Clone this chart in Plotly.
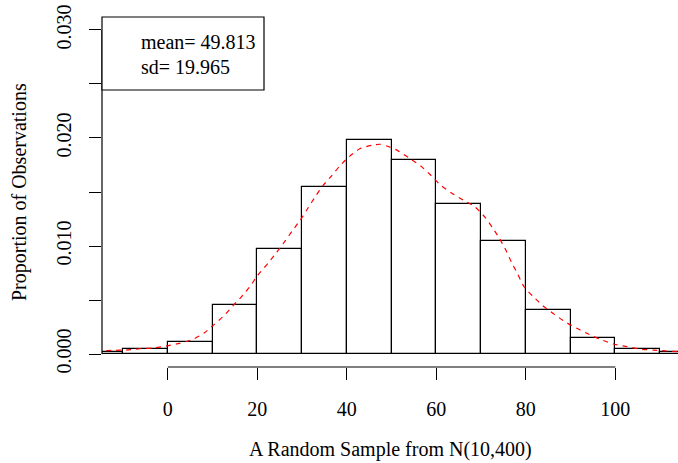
import plotly.graph_objects as go

# ---- data ----
bin_mids = [-15, -5, 5, 15, 25, 35, 45, 55, 65, 75, 85, 95, 105, 115]
proportions = [0.0002, 0.0005, 0.0011, 0.0045, 0.0097, 0.0155, 0.0198,
               0.0180, 0.0139, 0.0105, 0.0041, 0.0015, 0.0005, 0.0002]
bin_width = 10

dens_x = [-16.0, -14.6, -12.3, -9.3, -6.3, -3.4, -0.4, 2.6, 5.6, 8.2, 10.4, 12.7,
          14.5, 16.8, 18.7, 20.1, 22.4, 24.3, 26.1, 28.0, 29.6, 31.3, 33.0, 34.7,
          36.6, 38.4, 40.6, 42.9, 45.9, 47.4, 48.9, 51.1, 54.1, 56.7, 58.9, 60.8,
          63.4, 66.0, 68.6, 70.9, 72.5, 74.1, 75.6, 76.8, 78.2, 79.6, 81.7, 83.8,
          86.1, 88.7, 91.4, 94.0, 96.6, 99.6, 102.6, 105.5, 108.5, 111.5, 114.5]
dens_y = [0.00025, 0.00028, 0.00034, 0.00037, 0.00049, 0.00056, 0.00074, 0.00099,
          0.00136, 0.00197, 0.00275, 0.00361, 0.00444, 0.00546, 0.00645, 0.0073,
          0.0084, 0.0094, 0.0104, 0.0115, 0.0124, 0.0135, 0.0146, 0.0156, 0.0165,
          0.0174, 0.0183, 0.0190, 0.01935, 0.01942, 0.01926, 0.0189, 0.0181,
          0.01735, 0.0165, 0.0157, 0.0149, 0.01426, 0.01364, 0.01266, 0.01173,
          0.01071, 0.00957, 0.00849, 0.00738, 0.00623, 0.0053, 0.00447, 0.00376,
          0.003, 0.00238, 0.00185, 0.00136, 0.00093, 0.00068, 0.00046, 0.00037,
          0.00028, 0.0002]

x_ticks = [0, 20, 40, 60, 80, 100]
y_ticks = [0.000, 0.005, 0.010, 0.015, 0.020, 0.025, 0.030]
y_ticklabels = ["0.000", "", "0.010", "", "0.020", "", "0.030"]

mean_val = 49.813
sd_val = 19.965
x_title = "A Random Sample from N(10,400)"
y_title = "Proportion of Observations"

FONT = "Liberation Serif, Times New Roman, serif"
FS = 20

fig = go.Figure()
fig.add_trace(go.Bar(
    x=bin_mids, y=proportions, width=bin_width,
    marker=dict(color="white", line=dict(color="black", width=1.2)),
    hoverinfo="skip", showlegend=False))
fig.add_trace(go.Scatter(
    x=dens_x, y=dens_y, mode="lines",
    line=dict(color="red", width=1.2, dash="5px,5px", shape="spline", smoothing=0.6),
    hoverinfo="skip", showlegend=False))

# axis lines spanning only the tick range (R style)
fig.add_shape(type="line", xref="x", yref="paper",
              x0=min(x_ticks), x1=max(x_ticks), y0=0, y1=0,
              line=dict(color="black", width=1.2))
fig.add_shape(type="line", xref="paper", yref="y",
              x0=0, x1=0, y0=min(y_ticks), y1=max(y_ticks),
              line=dict(color="black", width=1.2))

# legend-like box in top-left corner
fig.add_shape(type="rect", xref="paper", yref="paper",
              x0=0, x1=0.28125, y0=0.7914, y1=1.0,
              line=dict(color="black", width=1.2), fillcolor="white")
fig.add_annotation(xref="paper", yref="paper", x=0.0642, y=0.9294,
                   xanchor="left", yanchor="middle", showarrow=False,
                   text=f"mean= {mean_val}", font=dict(family=FONT, size=FS, color="black"))
fig.add_annotation(xref="paper", yref="paper", x=0.0642, y=0.858,
                   xanchor="left", yanchor="middle", showarrow=False,
                   text=f"sd= {sd_val}", font=dict(family=FONT, size=FS, color="black"))

# axis titles
fig.add_annotation(xref="paper", yref="paper", x=0.5, y=-0.2343,
                   xanchor="center", yanchor="middle", showarrow=False,
                   text=x_title, font=dict(family=FONT, size=FS, color="black"))
fig.add_annotation(xref="paper", yref="paper", x=-0.1440, y=0.5,
                   xanchor="center", yanchor="middle", showarrow=False, textangle=-90,
                   text=y_title, font=dict(family=FONT, size=FS, color="black"))

fig.update_layout(
    width=678, height=463,
    margin=dict(l=102, r=0, t=17, b=96),
    plot_bgcolor="white", paper_bgcolor="white",
    bargap=0, showlegend=False,
    font=dict(family=FONT, size=FS, color="black"),
    xaxis=dict(range=[-14.7, 114.0], showgrid=False, zeroline=False, showline=False,
               tickmode="array", tickvals=x_ticks, ticks="outside", ticklen=12,
               tickwidth=1.2, tickcolor="black", ticklabelstandoff=12,
               tickfont=dict(family=FONT, size=FS, color="black")),
    yaxis=dict(range=[-0.0012, 0.0312], showgrid=False, zeroline=False, showline=False,
               tickmode="array", tickvals=y_ticks, ticktext=y_ticklabels,
               ticks="outside", ticklen=12, tickwidth=1.2, tickcolor="black",
               tickangle=-90, ticklabelstandoff=10,
               tickfont=dict(family=FONT, size=FS, color="black")),
)

fig.write_html("out.html")
